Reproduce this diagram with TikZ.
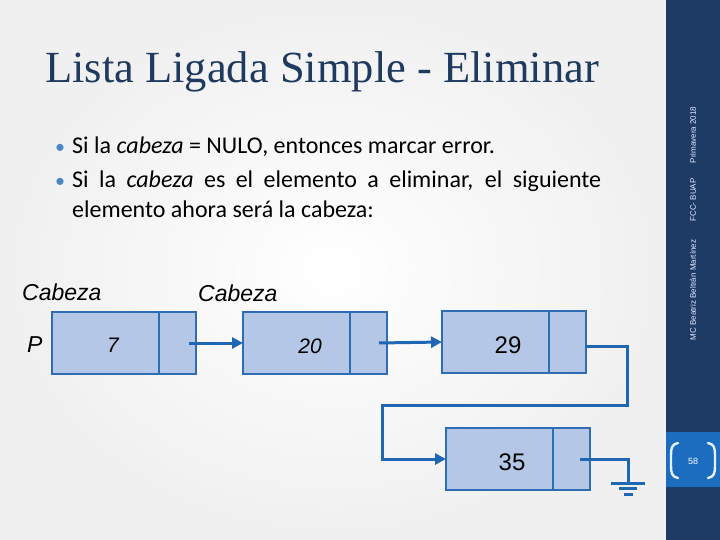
\documentclass[tikz,border=0pt]{standalone}
\usepackage{fontspec}
\setmainfont{Carlito}
\newfontfamily\titlefont{Liberation Serif}
\newfontfamily\arialfont{Liberation Sans}
\usetikzlibrary{arrows.meta}
\definecolor{navy}{HTML}{1E3B66}
\definecolor{titleblue}{HTML}{1F3A5F}
\definecolor{slideblue}{HTML}{1C6DC0}
\definecolor{boxfill}{HTML}{B4C7E7}
\definecolor{boxline}{HTML}{2E6DB4}
\definecolor{linkblue}{HTML}{1F67B3}
\definecolor{bulletblue}{HTML}{4A86C5}
\definecolor{bracketcol}{HTML}{E4F1FB}
\tikzset{
  databox/.style={draw=boxline, fill=boxfill, line width=2.4pt, minimum width=107pt,
    minimum height=62pt, inner sep=0pt, outer sep=0pt, anchor=north west},
  ptrbox/.style={databox, minimum width=37pt, anchor=west},
  link/.style={draw=linkblue, line width=3pt, -{Triangle[length=11pt,width=11pt]}},
  wire/.style={draw=linkblue, line width=3pt},
  headlbl/.style={font=\arialfont\itshape\fontsize{23}{26}\selectfont, inner sep=0pt, anchor=base west},
  numit/.style={font=\arialfont\itshape\fontsize{21}{24}\selectfont, inner sep=0pt, anchor=base},
  numup/.style={font=\arialfont\fontsize{24}{28}\selectfont, inner sep=0pt, anchor=base},
  bodytxt/.style={font=\fontsize{24}{28}\selectfont, inner sep=0pt, anchor=base west},
  bulletmark/.style={font=\fontsize{20}{24}\selectfont, inner sep=0pt, anchor=base west, text=bulletblue},
  sidetxt/.style={font=\arialfont\fontsize{8}{10}\selectfont, text=white!92!blue, rotate=90, inner sep=0pt},
  bracket/.style={draw=bracketcol, line width=2.4pt, line cap=round}
}
\begin{document}
\begin{tikzpicture}[x=1pt,y=-1pt]
\useasboundingbox (0,0) rectangle (720,540);
% background
\shade[inner color=white, middle color=white, outer color=black!6] (0,0) rectangle (666,540);
\fill[navy] (666,0) rectangle (720,540);
\fill[slideblue] (666,432) rectangle (720,487);
\draw[bracket] (678,443) .. controls (672,444) and (671,448) .. (671,455) -- (671,466) .. controls (671,473) and (672,477) .. (678,478);
\draw[bracket] (708,443) .. controls (714,444) and (715,448) .. (715,455) -- (715,466) .. controls (715,473) and (714,477) .. (708,478);
\node[font=\arialfont\fontsize{9}{10}\selectfont, text=white, inner sep=0pt] (pg) at (693,461) {58};
\node[sidetxt] (s1) at (693,135) {Primavera 2018};
\node[sidetxt] (s2) at (693,200) {FCC- BUAP};
\node[sidetxt] (s3) at (693,290) {MC Beatriz Beltrán Martínez};

% title and text
\node[font=\titlefont\fontsize{44.5}{52}\selectfont, text=titleblue, inner sep=0pt, anchor=base west] (title) at (45,83) {Lista Ligada Simple - Eliminar};
\node[bulletmark] (k1) at (55,154) {•};
\node[bodytxt] (b1) at (72,154) {Si la \textit{cabeza} = NULO, entonces marcar error.};
\node[bulletmark] (k2) at (55,188) {•};
\node[bodytxt] (b2) at (72,188) {\makebox[529pt][s]{Si la \textit{cabeza} es el elemento a eliminar, el siguiente}};
\node[bodytxt] (b3) at (72,218) {elemento ahora será la cabeza:};

% labels
\node[headlbl] (h1) at (22,300) {Cabeza};
\node[headlbl] (h2) at (198,301) {Cabeza};
\node[headlbl] (pp) at (27,352) {P};

% list nodes
\node[databox] (d1) at (52,312) {};
\node[ptrbox] (p1) at (d1.east) {};
\node[databox] (d2) at (243,312) {};
\node[ptrbox] (p2) at (d2.east) {};
\node[databox] (d3) at (442,311) {};
\node[ptrbox] (p3) at (d3.east) {};
\node[databox] (d4) at (446,428) {};
\node[ptrbox] (p4) at (d4.east) {};

\node[numit] (n1) at (113,352) {7};
\node[numit] (n2) at (310,353) {20};
\node[numup] (n3) at (508,353) {29};
\node[numup] (n4) at (512,470) {35};

% connectors
\draw[link] ([xshift=-7pt]p1.east) -- (d2.west);
\draw[link] ([xshift=-8pt]p2.east) -- (d3.west);
\coordinate (r1) at (627,405);
\coordinate (r2) at (382,405);
\draw[link] ([yshift=-4pt]p3.east) -| (r1) -- (r2) |- (d4.west);
\coordinate (g) at (628,483);
\draw[wire] ([xshift=-10pt]p4.east) -| (g);
\draw[wire] ([xshift=-17pt]g) -- ([xshift=17pt]g);
\draw[wire] ([xshift=-9pt,yshift=-5.5pt]g) -- ([xshift=9pt,yshift=-5.5pt]g);
\draw[wire] ([xshift=-4.5pt,yshift=-11pt]g) -- ([xshift=4.5pt,yshift=-11pt]g);
\end{tikzpicture}
\end{document}
